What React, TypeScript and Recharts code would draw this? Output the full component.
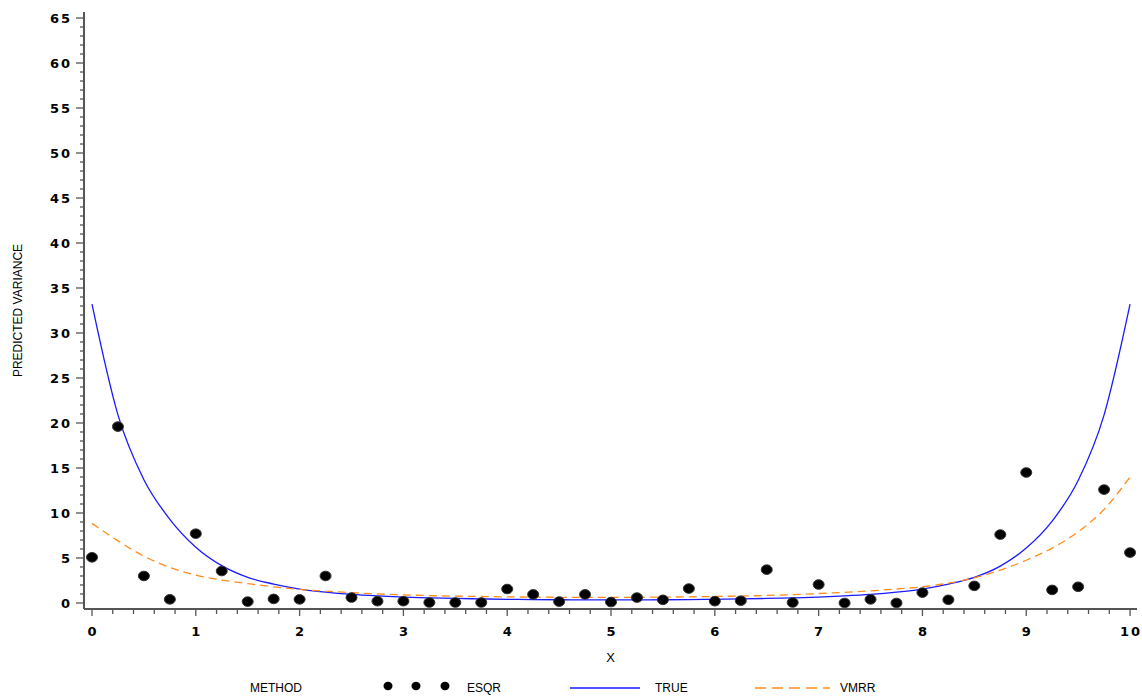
import React from 'react';
import { ComposedChart, Line, Scatter, XAxis, YAxis } from 'recharts';

const xValues = [
  0, 0.25, 0.5, 0.75, 1, 1.25, 1.5, 1.75, 2, 2.25, 2.5, 2.75, 3, 3.25, 3.5, 3.75, 4, 4.25, 4.5, 4.75, 5,
  5.25, 5.5, 5.75, 6, 6.25, 6.5, 6.75, 7, 7.25, 7.5, 7.75, 8, 8.25, 8.5, 8.75, 9, 9.25, 9.5, 9.75, 10,
];

const esqrValues = [
  5.07, 19.6, 3.0, 0.4, 7.7, 3.55, 0.15, 0.45, 0.4, 3.0, 0.6, 0.2, 0.2, 0.05, 0.05, 0.05, 1.55, 0.95, 0.15, 0.95, 0.1,
  0.6, 0.35, 1.6, 0.2, 0.25, 3.7, 0.05, 2.05, 0.0, 0.4, 0.0, 1.15, 0.35, 1.9, 7.6, 14.5, 1.45, 1.8, 12.6, 5.6,
];

const trueValues = [
  33.2, 20.9, 13.7, 9.3, 6.2, 4.15, 2.85, 2.1, 1.55, 1.2, 0.95, 0.78, 0.65, 0.56, 0.5, 0.45, 0.41, 0.38, 0.36, 0.35, 0.35,
  0.35, 0.36, 0.38, 0.41, 0.45, 0.5, 0.56, 0.65, 0.78, 0.95, 1.2, 1.55, 2.1, 2.85, 4.1, 6.1, 9.1, 13.6, 20.9, 33.2,
];

const vmrrValues = [
  8.85, 6.9, 5.2, 3.95, 3.1, 2.55, 2.15, 1.8, 1.5, 1.3, 1.15, 1.0, 0.9, 0.82, 0.76, 0.72, 0.68, 0.65, 0.63, 0.62, 0.62,
  0.63, 0.65, 0.68, 0.72, 0.77, 0.84, 0.93, 1.05, 1.18, 1.35, 1.55, 1.8, 2.2, 2.8, 3.65, 4.75, 6.1, 7.9, 10.4, 14.0,
];

const xMajorTicks = [0, 1, 2, 3, 4, 5, 6, 7, 8, 9, 10];
const yMajorTicks = [0, 5, 10, 15, 20, 25, 30, 35, 40, 45, 50, 55, 60, 65];

// minor ticks: every 0.2 on x, every 1 on y
const xTicks: number[] = [];
for (let i = 0; i <= 50; i++) xTicks.push(Math.round(i * 2) / 10);
const yTicks: number[] = [];
for (let i = 0; i <= 65; i++) yTicks.push(i);

const data = xValues.map((x, i) => ({
  x,
  esqr: esqrValues[i],
  truth: trueValues[i],
  vmrr: vmrrValues[i],
}));

const AXIS_COLOR = '#555';
const TICK_FONT = { fontFamily: 'DejaVu Sans', fontSize: 13, fontWeight: 'bold' as const, letterSpacing: 2, fill: '#000' };
const LABEL_FONT = 'Liberation Sans, Arial, sans-serif';

const isMajor = (v: number, majors: number[]) => majors.some((m) => Math.abs(m - v) < 1e-6);

const XTick = (props: any) => {
  const { x, y, payload } = props;
  const major = isMajor(payload.value, xMajorTicks);
  return (
    <g>
      <line x1={x} x2={x} y1={y} y2={y + (major ? 7 : 5)} stroke={AXIS_COLOR} strokeWidth={1.3} />
      {major && (
        <text x={x + 1} y={y + 27} textAnchor="middle" {...TICK_FONT}>
          {payload.value}
        </text>
      )}
    </g>
  );
};

const YTick = (props: any) => {
  const { x, y, payload } = props;
  const major = isMajor(payload.value, yMajorTicks);
  return (
    <g>
      <line x1={x - (major ? 8 : 4)} x2={x} y1={y} y2={y} stroke={AXIS_COLOR} strokeWidth={1.3} />
      {major && (
        <text x={x - 12} y={y + 5} textAnchor="end" {...TICK_FONT}>
          {payload.value}
        </text>
      )}
    </g>
  );
};

const Dot = (props: any) => {
  const { cx, cy } = props;
  if (cx == null || cy == null) return null;
  return <ellipse cx={cx} cy={cy} rx={5.5} ry={4.8} fill="#000" stroke="#333" strokeWidth={1} />;
};

const legendText: React.CSSProperties = {
  position: 'absolute',
  top: 681,
  fontFamily: LABEL_FONT,
  fontSize: 12,
  color: '#000',
  lineHeight: '14px',
};

const App = () => {
  return (
    <div style={{ position: 'absolute', left: 0, top: 0, width: 1142, height: 698, background: '#fff' }}>
      <ComposedChart width={1142} height={698} data={data} margin={{ top: 12, right: 5, left: 0, bottom: 49 }}>
        <XAxis
          type="number"
          dataKey="x"
          domain={[-0.077, 10.067]}
          ticks={xTicks}
          interval={0}
          allowDataOverflow
          tickSize={0}
          tickMargin={0}
          tickLine={false}
          tick={<XTick />}
          height={40}
          axisLine={{ stroke: AXIS_COLOR, strokeWidth: 2 }}
          label={({ viewBox }: any) => (
            <text
              x={viewBox.x + viewBox.width / 2}
              y={viewBox.y + 53}
              textAnchor="middle"
              fontFamily={LABEL_FONT}
              fontSize={13}
              fill="#000"
            >
              X
            </text>
          )}
        />
        <YAxis
          type="number"
          domain={[-0.67, 65.67]}
          ticks={yTicks}
          interval={0}
          allowDataOverflow
          tickSize={0}
          tickMargin={0}
          tickLine={false}
          tick={<YTick />}
          width={84}
          axisLine={{ stroke: AXIS_COLOR, strokeWidth: 2 }}
          label={({ viewBox }: any) => {
            const cy = viewBox.y + viewBox.height / 2;
            return (
              <text
                x={18}
                y={cy}
                transform={`rotate(-90 18 ${cy})`}
                textAnchor="middle"
                dominantBaseline="central"
                fontFamily={LABEL_FONT}
                fontSize={12}
                fill="#000"
              >
                PREDICTED VARIANCE
              </text>
            );
          }}
        />
        <Line
          type="monotone"
          dataKey="truth"
          stroke="#1a1aff"
          strokeWidth={1.3}
          dot={false}
          isAnimationActive={false}
        />
        <Line
          type="monotone"
          dataKey="vmrr"
          stroke="#ff8c1a"
          strokeWidth={1.3}
          strokeDasharray="8 5"
          dot={false}
          isAnimationActive={false}
        />
        <Scatter dataKey="esqr" fill="#000" shape={<Dot />} isAnimationActive={false} />
      </ComposedChart>

      {/* legend row */}
      <div style={{ ...legendText, left: 250 }}>METHOD</div>
      <svg style={{ position: 'absolute', left: 370, top: 678 }} width={90} height={20}>
        {[18, 46, 75].map((cx) => (
          <ellipse key={cx} cx={cx} cy={8} rx={4.5} ry={4.2} fill="#000" />
        ))}
      </svg>
      <div style={{ ...legendText, left: 467 }}>ESQR</div>
      <svg style={{ position: 'absolute', left: 565, top: 678 }} width={80} height={20}>
        <line x1={5} x2={75} y1={10} y2={10} stroke="#1a1aff" strokeWidth={1.3} />
      </svg>
      <div style={{ ...legendText, left: 655 }}>TRUE</div>
      <svg style={{ position: 'absolute', left: 750, top: 678 }} width={85} height={20}>
        <line x1={5} x2={80} y1={10} y2={10} stroke="#ff8c1a" strokeWidth={1.3} strokeDasharray="11 6" />
      </svg>
      <div style={{ ...legendText, left: 840 }}>VMRR</div>
    </div>
  );
};

export default App;
